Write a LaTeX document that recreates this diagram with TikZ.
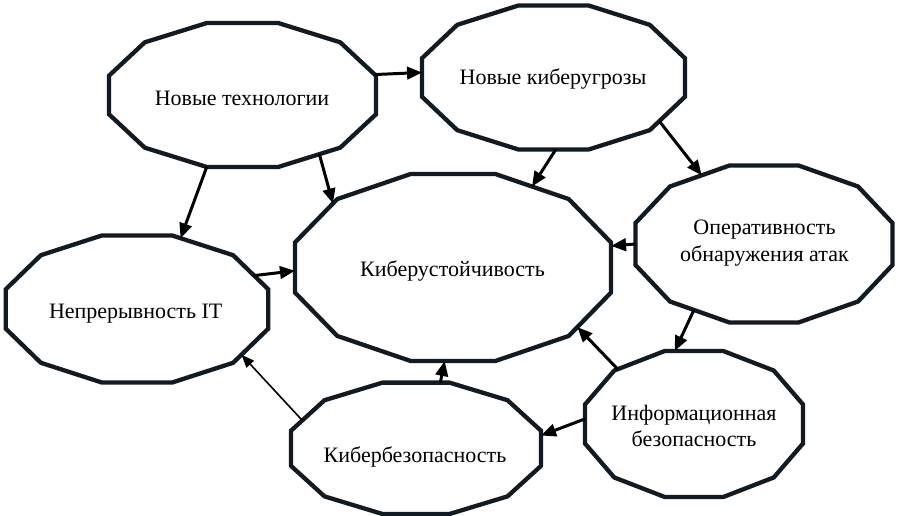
\documentclass[tikz,border=0pt]{standalone}
\usepackage{fontspec}
\setmainfont{Liberation Serif}
\usetikzlibrary{shapes.geometric,arrows.meta}
\definecolor{edgec}{RGB}{16,27,36}
\tikzset{
  dodec/.style={regular polygon, regular polygon sides=12, minimum size=100pt,
    inner sep=0pt, outer sep=0pt, draw=edgec, line width=4.3pt, fill=white, transform shape},
  lbl/.style={font=\fontsize{22}{26.5}\selectfont, align=center, inner sep=0pt, text=black},
  arr/.style={line width=3pt, -{Triangle[length=15pt,width=12.5pt]}},
  thinarr/.style={line width=1.6pt, -{Triangle[length=13pt,width=10pt]}},
}
\begin{document}
\begin{tikzpicture}[x=1pt,y=-1pt]
\useasboundingbox[fill=white] (0,0) rectangle (904,516);
% polygons
\begin{scope}[shift={(242.5,95)}]\node[dodec, xscale=138.2/50, yscale=74.5/50] (nt) {};\end{scope}
\begin{scope}[shift={(553.5,77.5)}]\node[dodec, xscale=136.1/50, yscale=74.5/50] (nk) {};\end{scope}
\begin{scope}[shift={(453,267.5)}]\node[dodec, xscale=163.6/50, yscale=96.8/50] (ku) {};\end{scope}
\begin{scope}[shift={(764,244)}]\node[dodec, xscale=133.0/50, yscale=81.3/50] (op) {};\end{scope}
\begin{scope}[shift={(137,309)}]\node[dodec, xscale=135.9/50, yscale=76.1/50] (np) {};\end{scope}
\begin{scope}[shift={(694,424)}]\node[dodec, xscale=112.8/50, yscale=75.6/50] (ib) {};\end{scope}
\begin{scope}[shift={(416,448.3)}]\node[dodec, xscale=129.4/50, yscale=68.0/50] (kb) {};\end{scope}
% labels
\node[lbl, anchor=base] (ntt) at (242,106) {Новые технологии};
\node[lbl, anchor=base] (nkt) at (553,85) {Новые киберугрозы};
\node[lbl, anchor=base] (kut) at (452.5,276) {Киберустойчивость};
\node[lbl] (opt) at (764.5,243.2) {Оперативность\\обнаружения атак};
\node[lbl, anchor=base] (npt) at (135.7,318.3) {Непрерывность IT};
\node[lbl] (ibt) at (694,426.2) {Информационная\\безопасность};
\node[lbl, anchor=base] (kbt) at (415,462.7) {Кибербезопасность};
% connectors
\draw[arr] (nt.16) -- (nk.176);
\draw[arr] (nt.305) -- (ku.138);
\draw[arr] (nt.255) -- (np.71);
\draw[arr] (nk.271) -- (ku.60);
\draw[arr] (nk.323) -- (op.119);
\draw[arr] (op.180) -- (ku.13);
\draw[arr] (op.237) -- (ib.100);
\draw[arr] (ib.133) -- (ku.321);
\draw[arr] (ib.176) -- (kb.11);
\draw[arr] (kb.79) -- (ku.267);
\draw[thinarr] (kb.155) -- (np.322);
\draw[arr] (np.27) -- (ku.182);
\end{tikzpicture}
\end{document}
